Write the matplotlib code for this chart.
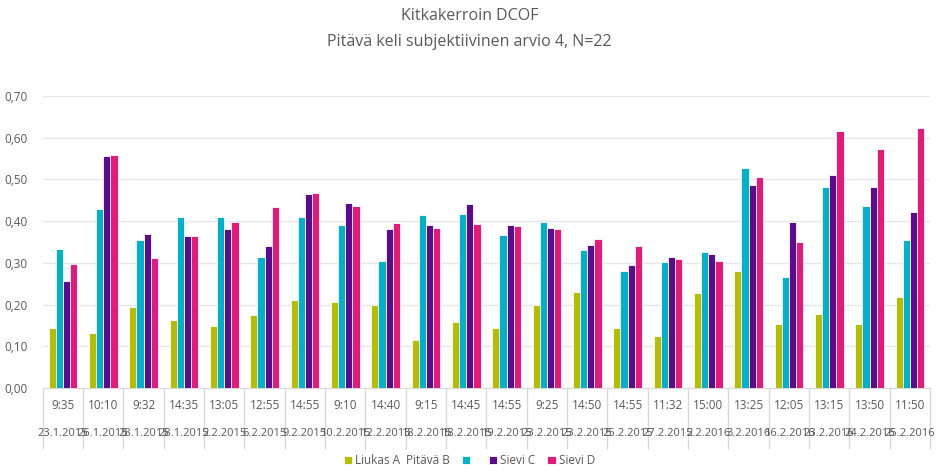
import numpy as np
import matplotlib.pyplot as plt

plt.rcParams['font.family'] = ['Open Sans', 'DejaVu Sans']

times = ['9:35', '10:10', '9:32', '14:35', '13:05', '12:55', '14:55', '9:10', '14:40', '9:15', '14:45',
         '14:55', '9:25', '14:50', '14:55', '11:32', '15:00', '13:25', '12:05', '13:15', '13:50', '11:50']
dates = ['23.1.2015', '26.1.2015', '28.1.2015', '28.1.2015', '2.2.2015', '6.2.2015', '9.2.2015', '10.2.2015',
         '12.2.2015', '18.2.2015', '18.2.2015', '19.2.2015', '23.2.2015', '23.2.2015', '25.2.2015', '27.2.2015',
         '2.2.2016', '3.2.2016', '16.2.2016', '23.2.2016', '24.2.2016', '25.2.2016']

liukas_a = [0.143, 0.131, 0.195, 0.163, 0.148, 0.175, 0.211, 0.205, 0.199, 0.116, 0.159,
            0.145, 0.199, 0.229, 0.145, 0.124, 0.227, 0.281, 0.153, 0.177, 0.153, 0.219]
pitava_b = [0.333, 0.429, 0.355, 0.410, 0.411, 0.313, 0.411, 0.391, 0.305, 0.415, 0.418,
            0.367, 0.397, 0.332, 0.281, 0.301, 0.325, 0.527, 0.267, 0.482, 0.437, 0.355]
sievi_c = [0.256, 0.557, 0.370, 0.365, 0.380, 0.341, 0.466, 0.443, 0.381, 0.391, 0.440,
           0.391, 0.383, 0.344, 0.295, 0.313, 0.322, 0.486, 0.399, 0.510, 0.482, 0.423]
sievi_d = [0.297, 0.558, 0.311, 0.365, 0.397, 0.434, 0.467, 0.437, 0.396, 0.384, 0.394,
           0.388, 0.381, 0.356, 0.340, 0.310, 0.304, 0.505, 0.350, 0.617, 0.574, 0.624]

series = [liukas_a, pitava_b, sievi_c, sievi_d]
labels = ['Liukas A  Pitävä B', ' ', 'Sievi C', 'Sievi D']
colors = ['#b4bd00', '#00b1cb', '#5c0a8e', '#e5197a']

txt = '#595959'
fig = plt.figure(figsize=(9.39, 4.71), dpi=100)
ax = fig.add_axes([0.0455, 0.1762, 0.945, 0.62])

x = np.arange(len(times))
w = 0.178
for i, (vals, lab, col) in enumerate(zip(series, labels, colors)):
    ax.bar(x + (i - 1.5) * w, vals, w, color=col, edgecolor='white', linewidth=0.6, label=lab, zorder=3)

ax.set_xlim(-0.5, len(times) - 0.5)
ax.set_ylim(0, 0.7)
ax.set_yticks(np.arange(0, 0.71, 0.1))
ax.set_yticklabels([f'{v:.2f}'.replace('.', ',') for v in np.arange(0, 0.71, 0.1)], color=txt, fontsize=8.5)
ax.grid(axis='y', color='#e6e6e6', linewidth=1, zorder=0)
for s in ['top', 'right', 'left']:
    ax.spines[s].set_visible(False)
ax.spines['bottom'].set_color('#d9d9d9')
ax.tick_params(axis='y', length=0, pad=11)

ax.set_xticks(x)
ax.set_xticklabels(times, color=txt, fontsize=8.5)
ax.tick_params(axis='x', which='major', length=0, pad=8)
ax.set_xticks(np.arange(len(times) + 1) - 0.5, minor=True)
ax.tick_params(axis='x', which='minor', length=44, color='#d9d9d9', width=1)
for xi, d in zip(x, dates):
    ax.text(xi, -0.155, d, transform=ax.get_xaxis_transform(), ha='center', va='center',
            color=txt, fontsize=8)

fig.text(0.5, 0.966, 'Kitkakerroin DCOF', ha='center', va='center', fontsize=11.5, color=txt)
fig.text(0.5, 0.91, 'Pitävä keli subjektiivinen arvio 4, N=22', ha='center', va='center', fontsize=11.5, color=txt)

fig.legend(loc='center', bbox_to_anchor=(0.5, 0.022), ncol=4, frameon=False, fontsize=8.5,
           handlelength=0.7, handleheight=0.7, handletextpad=0.3, columnspacing=1.0, labelcolor=txt)

fig.savefig('out.png', dpi=100)
